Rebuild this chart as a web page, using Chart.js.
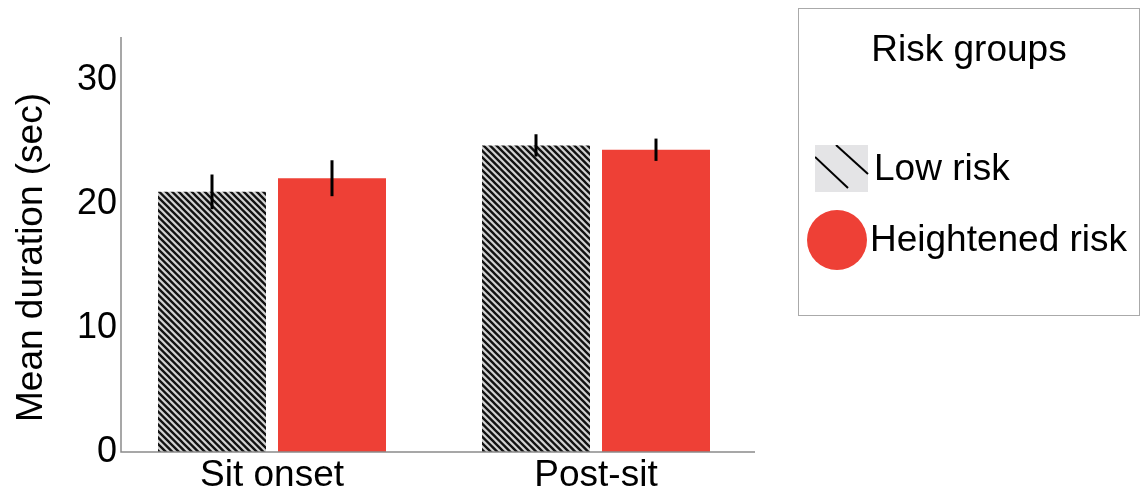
<!DOCTYPE html>
<html>
<head>
<meta charset="utf-8">
<script src="https://cdn.jsdelivr.net/npm/chart.js@4"></script>
<style>
  html, body { margin: 0; padding: 0; background: #fff; }
  #wrap { position: relative; width: 1141px; height: 497px; font-family: "Liberation Sans", Arial, Helvetica, sans-serif; }
  #legend { position: absolute; left: 798px; top: 8px; width: 340px; height: 306px; border: 1.5px solid #aaa; box-sizing: content-box; }
  #legend .title { position: absolute; left: 0; width: 100%; top: 19px; text-align: center; font-size: 37px; color: #000; }
  #legend .item { position: absolute; font-size: 37px; color: #000; line-height: 1; }
  #legend svg, #legend .dot { position: absolute; }
  #legend .dot { border-radius: 50%; background: #ee4036; }
</style>
</head>
<body>
<div id="wrap">
  <canvas id="myChart" width="1141" height="497"></canvas>
  <div id="legend">
    <div class="title">Risk groups</div>
    <svg style="left:16px;top:136px" width="54" height="48">
      <rect x="0" y="0" width="53" height="47" fill="#e4e4e6"/>
      <line x1="0" y1="12" x2="33" y2="43" stroke="#000" stroke-width="2"/>
      <line x1="21" y1="0" x2="53" y2="29" stroke="#000" stroke-width="2"/>
    </svg>
    <div class="item" style="left:75px;top:140px">Low risk</div>
    <div class="dot" style="left:8px;top:201px;width:60px;height:60px"></div>
    <div class="item" style="left:71px;top:211px">Heightened risk</div>
  </div>
</div>
<script>
const categories = ['Sit onset', 'Post-sit'];
const lowRisk = [21.0, 24.75];
const lowRiskErr = [1.4, 0.9];
const highRisk = [22.1, 24.4];
const highRiskErr = [1.45, 0.9];
const yTicks = [0, 10, 20, 30];

const FONT = '"Liberation Sans", Arial, Helvetica, sans-serif';

// light grey with black "\" stripes, period 6.5px
function hatch() {
  const n = 13;
  const c = document.createElement('canvas');
  c.width = c.height = n;
  const g = c.getContext('2d');
  g.fillStyle = '#d2d2d2';
  g.fillRect(0, 0, n, n);
  g.strokeStyle = '#111';
  g.lineWidth = 2.3;
  g.beginPath();
  [-13, -6.5, 0, 6.5, 13].forEach(k => {
    g.moveTo(-2, -2 + k);
    g.lineTo(n + 2, n + 2 + k);
  });
  g.stroke();
  return g.createPattern(c, 'repeat');
}

const errors = [lowRiskErr, highRiskErr];

const errorBars = {
  id: 'errorBars',
  afterDatasetsDraw(chart) {
    const ctx = chart.ctx;
    const y = chart.scales.y;
    ctx.save();
    ctx.strokeStyle = '#000';
    ctx.lineWidth = 3;
    chart.data.datasets.forEach((ds, di) => {
      chart.getDatasetMeta(di).data.forEach((bar, i) => {
        const v = ds.data[i], e = errors[di][i];
        ctx.beginPath();
        ctx.moveTo(bar.x, y.getPixelForValue(v + e));
        ctx.lineTo(bar.x, y.getPixelForValue(v - e));
        ctx.stroke();
      });
    });
    ctx.restore();
  }
};

// axis lines sit a little inside the category area, so draw them (and y labels) here
const axesAndTitle = {
  id: 'axesAndTitle',
  afterDraw(chart) {
    const ctx = chart.ctx;
    const a = chart.chartArea;
    const y = chart.scales.y;
    const x0 = a.left + 11;
    ctx.save();
    ctx.strokeStyle = '#8a8a8a';
    ctx.lineWidth = 1.5;
    ctx.beginPath();
    ctx.moveTo(x0, a.top);
    ctx.lineTo(x0, a.bottom);
    ctx.lineTo(a.right - 3, a.bottom);
    ctx.stroke();

    ctx.fillStyle = '#000';
    ctx.font = '36px ' + FONT;
    ctx.textAlign = 'right';
    ctx.textBaseline = 'middle';
    yTicks.forEach(v => ctx.fillText(String(v), x0 - 4, y.getPixelForValue(v)));

    ctx.font = '37px ' + FONT;
    ctx.textAlign = 'center';
    ctx.translate(32, (a.top + a.bottom) / 2 + 13);
    ctx.rotate(-Math.PI / 2);
    ctx.fillText('Mean duration (sec)', 0, 0);
    ctx.restore();
  }
};

const ctx = document.getElementById('myChart').getContext('2d');
const chart = new Chart(ctx, {
  type: 'bar',
  data: {
    labels: categories,
    datasets: [
      { label: 'Low risk', data: lowRisk, backgroundColor: hatch() },
      { label: 'Heightened risk', data: highRisk, backgroundColor: '#ee4036' }
    ]
  },
  options: {
    responsive: false,
    animation: false,
    layout: { padding: { top: 37, right: 383, left: 0, bottom: 0 } },
    datasets: { bar: { barPercentage: 0.9, categoryPercentage: 240 / 324 } },
    plugins: { legend: { display: false }, tooltip: { enabled: false } },
    scales: {
      x: {
        grid: { display: false, drawTicks: false },
        border: { display: false },
        ticks: { color: '#000', font: { family: FONT, size: 37 }, padding: 2 },
        afterFit: (s) => { s.height = 45; }
      },
      y: {
        min: 0,
        max: 33.5,
        grid: { display: false, drawTicks: false },
        border: { display: false },
        ticks: { display: false },
        afterBuildTicks: (s) => { s.ticks = yTicks.map(v => ({ value: v })); },
        afterFit: (s) => { s.width = 110; }
      }
    }
  },
  plugins: [errorBars, axesAndTitle]
});
</script>
</body>
</html>
